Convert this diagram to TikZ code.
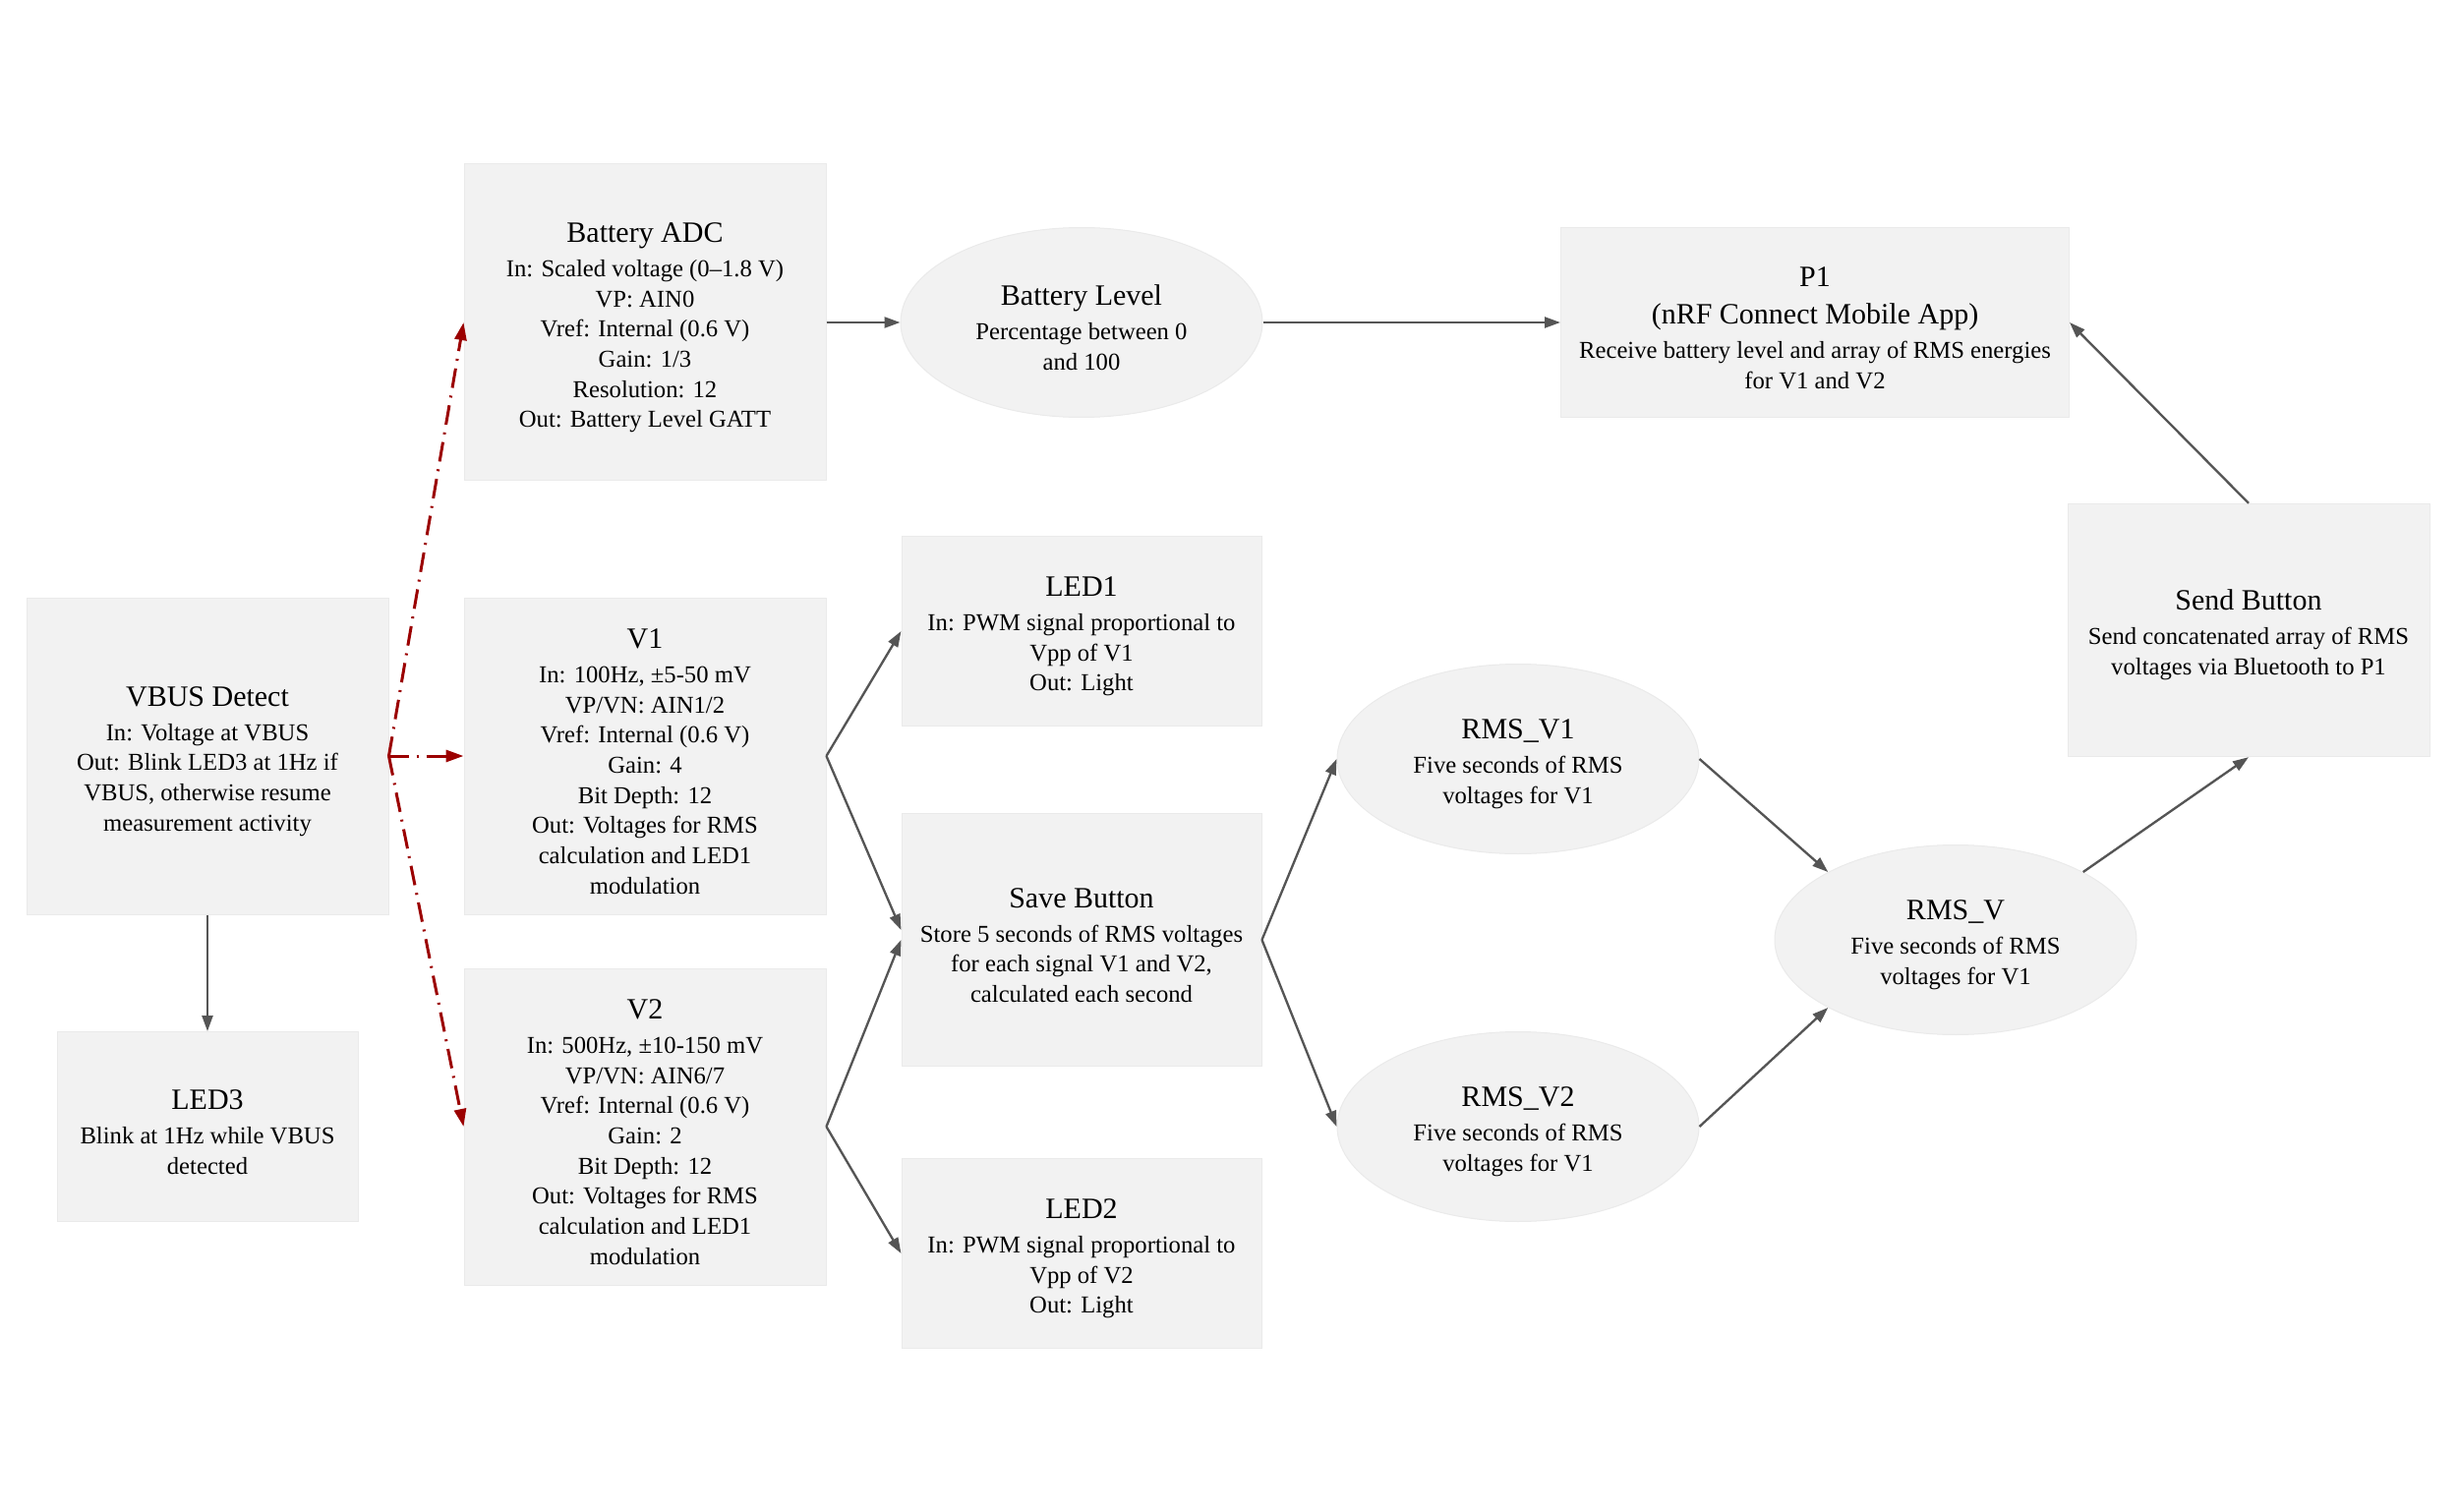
\documentclass[tikz,border=0pt]{standalone}
\usepackage{fontspec}
\setmainfont{Liberation Serif}
\usetikzlibrary{arrows.meta,shapes.geometric}
\definecolor{boxfill}{RGB}{242,242,242}
\definecolor{boxline}{RGB}{234,234,234}
\definecolor{edgegray}{RGB}{85,85,85}
\definecolor{vred}{RGB}{155,0,0}
\newcommand\ttl[1]{{\fontsize{9}{10.5}\selectfont\rule{0pt}{9.2pt}#1}\\[1.3pt]}
\begin{document}
\begin{tikzpicture}[x=0.3pt,y=-0.3pt,
  base/.style={fill=boxfill, draw=boxline, line width=0.3pt, align=center, inner sep=0pt,
    font=\fontsize{7.4}{9.2}\selectfont},
  bigbox/.style={base, rectangle, minimum width=110.4pt, minimum height=96.6pt},
  midbox/.style={base, rectangle, minimum width=110.4pt, minimum height=77.2pt},
  smallbox/.style={base, rectangle, minimum width=109.8pt, minimum height=57.9pt},
  oval/.style={base, ellipse, minimum width=110.4pt, minimum height=57.9pt},
  conn/.style={draw=edgegray, line width=0.7pt, -{Triangle[length=4.8pt,width=3.3pt]}},
  redconn/.style={draw=vred, line width=0.9pt, dash pattern=on 6pt off 2.4pt on 0.6pt off 2.4pt,
    -{Triangle[length=5.4pt,width=3.6pt]}}
]
\useasboundingbox (0,0) rectangle (2500,1538);

\node[bigbox] (bat) at (656,328) {\ttl{Battery ADC}In: Scaled voltage (0--1.8 V)\\VP: AIN0\\Vref: Internal (0.6 V)\\Gain: 1/3\\Resolution: 12\\Out: Battery Level GATT};
\node[oval] (blev) at (1100,328) {\ttl{Battery Level}Percentage between 0\\and 100};
\node[smallbox, minimum width=155.1pt] (p1) at (1846,328) {{\fontsize{9}{10.5}\selectfont\rule{0pt}{9.2pt}P1}\\[2.3pt]\ttl{(nRF Connect Mobile App)}Receive battery level and array of RMS energies\\for V1 and V2};
\node[bigbox] (vbus) at (211,769) {\ttl{VBUS Detect}In: Voltage at VBUS\\Out: Blink LED3 at 1Hz if\\VBUS, otherwise resume\\measurement activity};
\node[bigbox] (v1) at (656,769) {\ttl{V1}In: 100Hz, ±5-50 mV\\VP/VN: AIN1/2\\Vref: Internal (0.6 V)\\Gain: 4\\Bit Depth: 12\\Out: Voltages for RMS\\calculation and LED1\\modulation};
\node[smallbox] (led1) at (1100,642) {\ttl{LED1}In: PWM signal proportional to\\Vpp of V1\\Out: Light};
\node[midbox, minimum width=109.8pt] (save) at (1100,956) {\ttl{Save Button}Store 5 seconds of RMS voltages\\for each signal V1 and V2,\\calculated each second};
\node[oval] (rmsv1) at (1544,772) {\ttl{RMS\_V1}Five seconds of RMS\\voltages for V1};
\node[oval] (rmsv) at (1989,956) {\ttl{RMS\_V}Five seconds of RMS\\voltages for V1};
\node[midbox] (send) at (2287,641) {\ttl{Send Button}Send concatenated array of RMS\\voltages via Bluetooth to P1};
\node[smallbox, minimum width=91.8pt] (led3) at (211,1146) {\ttl{LED3}Blink at 1Hz while VBUS\\detected};
\node[bigbox] (v2) at (656,1146) {\ttl{V2}In: 500Hz, ±10-150 mV\\VP/VN: AIN6/7\\Vref: Internal (0.6 V)\\Gain: 2\\Bit Depth: 12\\Out: Voltages for RMS\\calculation and LED1\\modulation};
\node[oval] (rmsv2) at (1544,1146) {\ttl{RMS\_V2}Five seconds of RMS\\voltages for V1};
\node[smallbox] (led2) at (1100,1275) {\ttl{LED2}In: PWM signal proportional to\\Vpp of V2\\Out: Light};

\draw[conn] (bat.east) -- (blev.west);
\draw[conn] (blev.east) -- (p1.west);
\draw[conn] (send.north) -- (p1.east);
\draw[conn] (vbus.south) -- (led3.north);
\draw[redconn] (vbus.east) -- (bat.west);
\draw[redconn] (vbus.east) -- (v1.west);
\draw[redconn] (vbus.east) -- (v2.west);
\draw[conn] (v1.east) -- (led1.west);
\draw[conn] (v1.east) -- ([yshift=3pt]save.west);
\draw[conn] (v2.east) -- (save.west);
\draw[conn] (v2.east) -- (led2.west);
\draw[conn] (save.east) -- (rmsv1.west);
\draw[conn] (save.east) -- (rmsv2.west);
\draw[conn] (rmsv1.east) -- (rmsv.152);
\draw[conn] (rmsv2.east) -- (rmsv.208);
\draw[conn] (rmsv.28) -- (send.south);
\end{tikzpicture}
\end{document}
